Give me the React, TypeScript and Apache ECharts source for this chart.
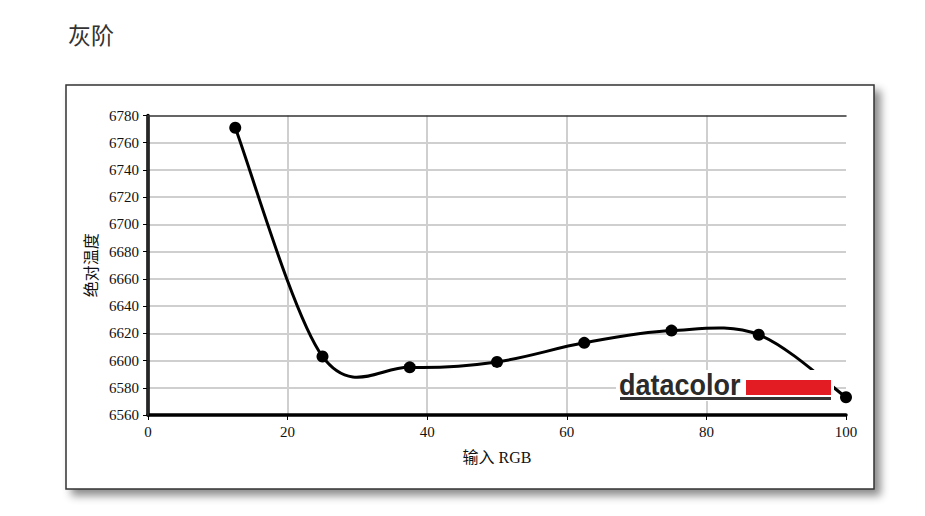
import React, { useEffect, useRef } from "react";
import * as echarts from "echarts";

const inputLevels = [12.5, 25, 37.5, 50, 62.5, 75, 87.5, 100];
const temperatures = [6771, 6603, 6595, 6599, 6613, 6622, 6619, 6573];
const titleText = "灰阶";
const yAxisName = "绝对温度";
const xAxisName = "输入 RGB";
const logoText = "datacolor";

export default function App() {
  const ref = useRef<HTMLDivElement>(null);
  useEffect(() => {
    if (!ref.current) return;
    const chart = echarts.init(ref.current, null, { renderer: "svg" });
    const tickFont = { fontFamily: "Liberation Serif", fontSize: 15, color: "#111" };
    const points = inputLevels.map((x, i) => [x, temperatures[i]]);

    // Catmull-Rom curve drawn through the data points (converted by the axes).
    const renderCurve = (params: any, api: any) => {
      if (params.dataIndex !== 0) return null;
      const px = points.map((p) => api.coord(p));
      const n = px.length;
      const children: any[] = [];
      for (let i = 0; i < n - 1; i++) {
        const p0 = px[Math.max(0, i - 1)];
        const p1 = px[i];
        const p2 = px[i + 1];
        const p3 = px[Math.min(n - 1, i + 2)];
        const t1x = (p2[0] - p0[0]) / 2;
        const t1y = (p2[1] - p0[1]) / 2;
        const t2x = (p3[0] - p1[0]) / 2;
        const t2y = (p3[1] - p1[1]) / 2;
        children.push({
          type: "bezierCurve",
          shape: {
            x1: p1[0],
            y1: p1[1],
            cpx1: p1[0] + t1x / 3,
            cpy1: p1[1] + t1y / 3,
            cpx2: p2[0] - t2x / 3,
            cpy2: p2[1] - t2y / 3,
            x2: p2[0],
            y2: p2[1],
          },
          style: { stroke: "#000", lineWidth: 3, fill: null, lineCap: "round" },
        });
      }
      return { type: "group", children };
    };

    chart.setOption({
      animation: false,
      backgroundColor: "#fff",
      title: {
        text: titleText,
        left: 63,
        top: 17,
        textStyle: { fontFamily: "Noto Sans CJK SC", fontSize: 23, fontWeight: "normal", color: "#333" },
      },
      graphic: [
        {
          type: "rect",
          z: -10,
          shape: { x: 66, y: 85, width: 808, height: 404 },
          style: {
            fill: "#fff",
            stroke: "#333",
            lineWidth: 1.5,
            shadowBlur: 8,
            shadowOffsetX: 6,
            shadowOffsetY: 6,
            shadowColor: "rgba(0,0,0,0.45)",
          },
        },
        { type: "rect", z: 100, shape: { x: 616, y: 370, width: 218, height: 31 }, style: { fill: "#fff" } },
        {
          type: "text",
          z: 101,
          x: 619,
          y: 385,
          scaleX: 0.93,
          style: {
            text: logoText,
            fontFamily: "Liberation Sans",
            fontWeight: "bold",
            fontSize: 29,
            fill: "#2b2b2b",
            verticalAlign: "middle",
          },
        },
        { type: "rect", z: 101, shape: { x: 746, y: 380, width: 85, height: 15 }, style: { fill: "#e31b23" } },
        { type: "rect", z: 101, shape: { x: 620, y: 397, width: 211, height: 3 }, style: { fill: "#333" } },
      ],
      grid: { left: 148, right: 79, top: 115.5, bottom: 101 },
      xAxis: [
        {
          type: "value",
          min: 0,
          max: 100,
          interval: 20,
          name: xAxisName,
          nameLocation: "middle",
          nameGap: 34,
          nameTextStyle: { fontFamily: "Liberation Serif, Noto Sans CJK SC", fontSize: 16, color: "#111" },
          axisLine: { show: true, onZero: false, lineStyle: { color: "#000", width: 3.5 } },
          axisTick: { show: true, length: 5, lineStyle: { color: "#000", width: 1 } },
          axisLabel: { ...tickFont, margin: 9 },
          splitLine: { show: true, showMinLine: false, showMaxLine: false, lineStyle: { color: "#cfcfcf", width: 2 } },
        },
        {
          type: "value",
          position: "top",
          min: 0,
          max: 100,
          z: 3,
          axisLine: { show: true, lineStyle: { color: "#333", width: 1.5 } },
          axisTick: { show: false },
          axisLabel: { show: false },
          splitLine: { show: false },
        },
      ],
      yAxis: [
        {
          type: "value",
          min: 6560,
          max: 6780,
          interval: 20,
          name: yAxisName,
          nameLocation: "middle",
          nameGap: 47,
          nameTextStyle: { fontFamily: "Noto Sans CJK SC", fontSize: 16, color: "#111" },
          axisLine: { show: true, onZero: false, lineStyle: { color: "#000", width: 3.5 } },
          axisTick: { show: true, length: 5, lineStyle: { color: "#000", width: 1 } },
          axisLabel: { ...tickFont, margin: 9, formatter: (v: number) => String(v) },
          splitLine: { show: true, showMinLine: false, showMaxLine: false, lineStyle: { color: "#cfcfcf", width: 2 } },
        },
        {
          type: "value",
          position: "right",
          min: 6560,
          max: 6780,
          z: 3,
          axisLine: { show: true, lineStyle: { color: "#333", width: 1.5 } },
          axisTick: { show: false },
          axisLabel: { show: false },
          splitLine: { show: false },
        },
      ],
      series: [
        {
          type: "custom",
          renderItem: renderCurve,
          data: points,
          z: 10,
          silent: true,
        },
        {
          type: "scatter",
          data: points,
          symbol: "circle",
          symbolSize: 12,
          itemStyle: { color: "#000", opacity: 1 },
          z: 11,
        },
      ],
    });
    return () => chart.dispose();
  }, []);
  return <div ref={ref} style={{ position: "absolute", left: 0, top: 0, width: 925, height: 516 }} />;
}
